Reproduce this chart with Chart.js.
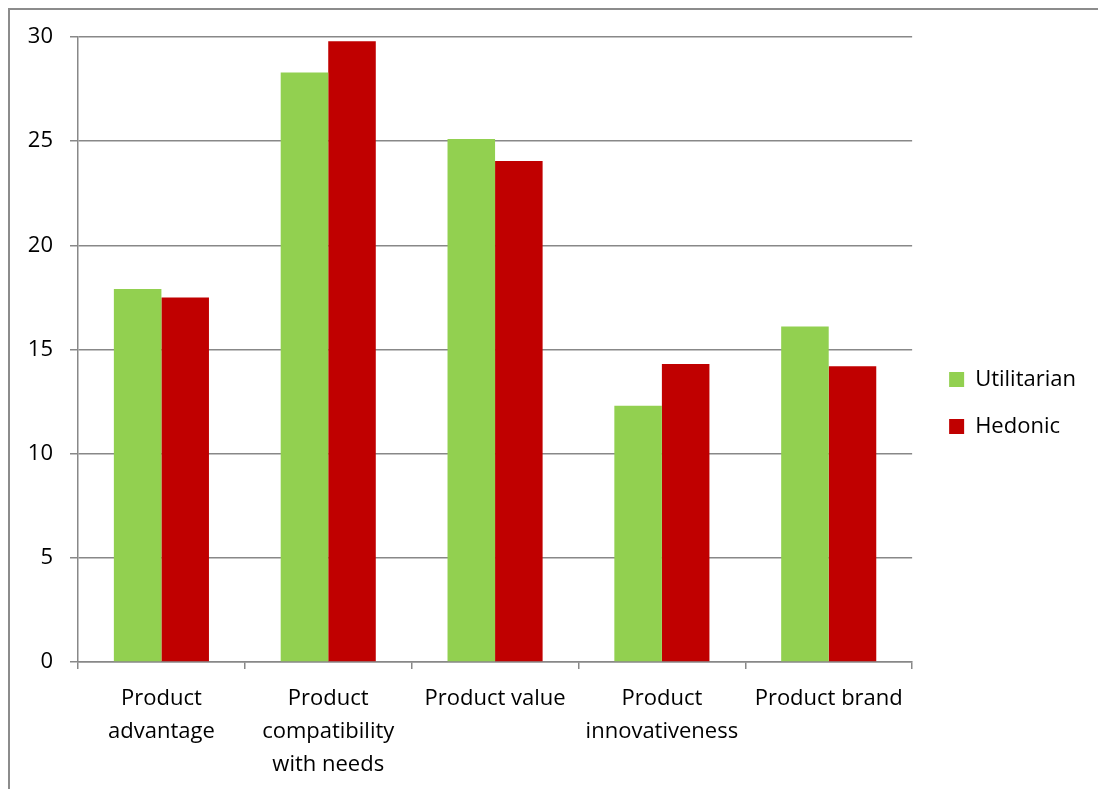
<!DOCTYPE html>
<html>
<head>
<meta charset="utf-8">
<script src="https://cdn.jsdelivr.net/npm/chart.js@4.4.1/dist/chart.umd.min.js"></script>
<style>
  html, body { margin: 0; padding: 0; background: #fff; }
  #wrap { width: 1098px; height: 789px; }
</style>
</head>
<body>
<div id="wrap"><canvas id="chart"></canvas></div>
<script>
var categories = [
	["Product", "advantage"],
	["Product", "compatibility", "with needs"],
	"Product value",
	["Product", "innovativeness"],
	"Product brand"
];
var utilitarian = [17.9, 28.3, 25.1, 12.3, 16.1];
var hedonic = [17.5, 29.8, 24.05, 14.3, 14.2];
var yTicks = [0, 5, 10, 15, 20, 25, 30];

var gridColor = "#888888";
var fontFamily = "'Open Sans', 'DejaVu Sans', sans-serif";

// outer frame of the original picture (top and left edge only visible)
var framePlugin = {
	id : "frame",
	beforeDraw : function (chart) {
		var c = chart.ctx;
		c.save();
		c.strokeStyle = "#8c8c8c";
		c.lineWidth = 2;
		c.beginPath();
		c.moveTo(9, chart.height);
		c.lineTo(9, 9);
		c.lineTo(chart.width, 9);
		c.stroke();
		c.restore();
	}
};

// nudge the legend block to where it sits in the original
var legendShift = {
	id : "legendShift",
	afterLayout : function (chart) {
		var lg = chart.legend;
		var dx = 12, dy = -10;
		lg.left += dx; lg.right += dx;
		lg.top += dy; lg.bottom += dy;
	}
};

Chart.defaults.font.family = fontFamily;
Chart.defaults.color = "#000";

new Chart(document.getElementById("chart"), {
	type : "bar",
	data : {
		labels : categories,
		datasets : [
			{
				label : "Utilitarian",
				data : utilitarian,
				backgroundColor : "#92D050",
				borderWidth : 0
			},
			{
				label : "Hedonic",
				data : hedonic,
				backgroundColor : "#C00000",
				borderWidth : 0
			}
		]
	},
	options : {
		responsive : true,
		maintainAspectRatio : false,
		animation : false,
		categoryPercentage : 0.57,
		barPercentage : 1.0,
		layout : {
			padding : { top : 37, left : 0, right : 24, bottom : 0 }
		},
		plugins : {
			legend : {
				position : "right",
				labels : {
					boxWidth : 15,
					boxHeight : 15,
					padding : 25,
					font : { size : 22 },
					color : "#000"
				}
			},
			tooltip : { enabled : false }
		},
		scales : {
			x : {
				grid : {
					display : true,
					drawOnChartArea : false,
					drawTicks : true,
					tickLength : 7,
					color : gridColor,
					lineWidth : 1.5,
					offset : true
				},
				border : { display : true, color : gridColor, width : 1.5 },
				ticks : {
					font : { size : 22, lineHeight : 1.5 },
					color : "#000",
					padding : 13,
					maxRotation : 0,
					autoSkip : false
				},
				afterFit : function (s) { s.height = 127; }
			},
			y : {
				min : 0,
				max : 30,
				afterBuildTicks : function (s) {
					s.ticks = yTicks.map(function (v) { return { value : v }; });
				},
				grid : {
					color : gridColor,
					lineWidth : 1.5,
					tickLength : 8
				},
				border : { display : true, color : gridColor, width : 1.5 },
				ticks : {
					font : { size : 22 },
					color : "#000",
					padding : 17
				},
				afterFit : function (s) { s.width = 78; }
			}
		}
	},
	plugins : [framePlugin, legendShift]
});
</script>
</body>
</html>
